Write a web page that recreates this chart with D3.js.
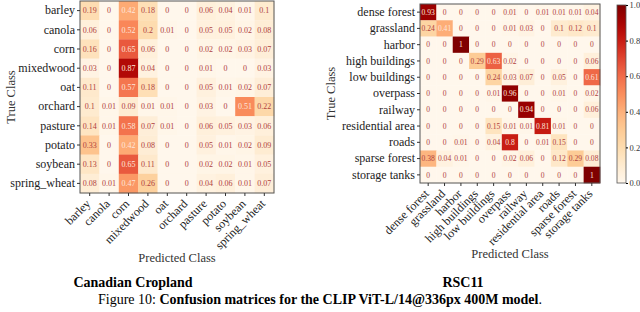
<!DOCTYPE html>
<html>
<head>
<meta charset="utf-8">
<script src="https://cdn.jsdelivr.net/npm/d3@7"></script>
<style>
  body { margin: 0; background: #fff; }
  svg text { font-family: "Liberation Serif", "DejaVu Serif", serif !important; }
</style>
</head>
<body>
<svg id="chart" width="640" height="312"></svg>
<script>
// Canadian Cropland classes
let cropClasses = ["barley", "canola", "corn", "mixedwood", "oat", "orchard", "pasture", "potato", "soybean", "spring_wheat"];
let cropValues = [
    [0.19, 0, 0.42, 0.18, 0, 0, 0.06, 0.04, 0.01, 0.1],
    [0.06, 0, 0.52, 0.2, 0.01, 0, 0.05, 0.05, 0.02, 0.08],
    [0.16, 0, 0.65, 0.06, 0, 0, 0.02, 0.02, 0.03, 0.07],
    [0.03, 0, 0.87, 0.04, 0, 0, 0.01, 0, 0, 0.03],
    [0.11, 0, 0.57, 0.18, 0, 0, 0.05, 0.01, 0.02, 0.07],
    [0.1, 0.01, 0.09, 0.01, 0.01, 0, 0.03, 0, 0.51, 0.22],
    [0.14, 0.01, 0.58, 0.07, 0.01, 0, 0.06, 0.05, 0.03, 0.06],
    [0.33, 0, 0.42, 0.08, 0, 0, 0.05, 0.01, 0.02, 0.09],
    [0.13, 0, 0.65, 0.11, 0, 0, 0.02, 0.02, 0.01, 0.05],
    [0.08, 0.01, 0.47, 0.26, 0, 0, 0.04, 0.06, 0.01, 0.07]
];

// RSC11 classes
let rscClasses = ["dense forest", "grassland", "harbor", "high buildings", "low buildings", "overpass", "railway", "residential area", "roads", "sparse forest", "storage tanks"];
let rscValues = [
    [0.93, 0, 0, 0, 0, 0.01, 0, 0.01, 0.01, 0.01, 0.04],
    [0.24, 0.41, 0, 0, 0, 0.01, 0.03, 0, 0.1, 0.12, 0.1],
    [0, 0, 1, 0, 0, 0, 0, 0, 0, 0, 0],
    [0, 0, 0, 0.29, 0.63, 0.02, 0, 0, 0, 0, 0.06],
    [0, 0, 0, 0, 0.24, 0.03, 0.07, 0, 0.05, 0, 0.61],
    [0, 0, 0, 0, 0.01, 0.96, 0, 0, 0.01, 0, 0.02],
    [0, 0, 0, 0, 0, 0, 0.94, 0, 0, 0, 0.06],
    [0, 0, 0, 0, 0.15, 0.01, 0.01, 0.81, 0.01, 0, 0],
    [0, 0, 0.01, 0, 0.04, 0.8, 0, 0.01, 0.15, 0, 0],
    [0.38, 0.04, 0.01, 0, 0, 0.02, 0.06, 0, 0.12, 0.29, 0.08],
    [0, 0, 0, 0, 0, 0, 0, 0, 0, 0, 1]
];

let colorTicks = [0, 0.2, 0.4, 0.6, 0.8, 1.0];

let serif = "'Liberation Serif', 'DejaVu Serif', serif";
let svg = d3.select("#chart").attr("font-family", serif);
let color = d3.scaleSequential(d3.interpolateOrRd).domain([0, 1]);

function drawMatrix(opts){
    let g = svg.append("g").attr("transform", "translate(" + opts.x + "," + opts.y + ")");
    let x = d3.scaleBand().domain(opts.classes).range([0, opts.w]);
    let y = d3.scaleBand().domain(opts.classes).range([0, opts.h]);

    let cells = [];
    opts.values.forEach((row, i) => {
        row.forEach((v, j) => cells.push({r: opts.classes[i], c: opts.classes[j], v: v}));
    });

    g.selectAll("rect.cell")
        .data(cells)
        .enter().append("rect")
        .attr("class", "cell")
        .attr("x", d => x(d.c))
        .attr("y", d => y(d.r))
        .attr("width", x.bandwidth() + 0.3)
        .attr("height", y.bandwidth() + 0.3)
        .style("fill", d => color(d.v));

    g.selectAll("text.val")
        .data(cells)
        .enter().append("text")
        .attr("class", "val")
        .attr("x", d => x(d.c) + x.bandwidth() / 2)
        .attr("y", d => y(d.r) + y.bandwidth() / 2)
        .attr("dy", "0.35em")
        .attr("text-anchor", "middle")
        .style("font-size", opts.valSize + "px")
        .style("fill", d => d.v >= 0.4 ? "#fde6dc" : "#b0413e")
        .text(d => d3.format("~g")(d.v));

    // frame
    g.append("rect")
        .attr("width", opts.w).attr("height", opts.h)
        .style("fill", "none").style("stroke", "#555").style("stroke-width", 1);

    let yAxis = g.append("g").call(d3.axisLeft(y).tickSize(3).tickPadding(2));
    yAxis.attr("font-family", serif);
    yAxis.select(".domain").remove();
    yAxis.selectAll("text").style("font-size", "12px").style("fill", "#222");
    yAxis.selectAll("line").style("stroke", "#333");

    let xAxis = g.append("g")
        .attr("transform", "translate(0," + opts.h + ")")
        .call(d3.axisBottom(x).tickSize(3).tickPadding(2));
    xAxis.attr("font-family", serif);
    xAxis.select(".domain").remove();
    xAxis.selectAll("line").style("stroke", "#333");
    xAxis.selectAll("text")
        .style("font-size", "12px").style("fill", "#222")
        .attr("text-anchor", "end")
        .attr("dy", "0.35em")
        .attr("transform", "translate(0,7) rotate(-45)")
        .attr("y", 0).attr("x", -2);

    g.append("text")
        .attr("transform", "translate(" + opts.yLabelX + "," + (opts.h / 2) + ") rotate(-90)")
        .attr("text-anchor", "middle")
        .style("font-size", "12.5px").style("fill", "#333")
        .text("True Class");

    g.append("text")
        .attr("x", opts.w / 2).attr("y", opts.xLabelY)
        .attr("text-anchor", "middle")
        .style("font-size", "12.5px").style("fill", "#333")
        .text("Predicted Class");

    svg.append("text")
        .attr("x", opts.titleX).attr("y", 287)
        .attr("text-anchor", "middle")
        .style("font-size", "14px").style("font-weight", "bold")
        .text(opts.title);
}

drawMatrix({x: 80, y: 1, w: 194, h: 192, classes: cropClasses, values: cropValues,
    valSize: 8, yLabelX: -65, xLabelY: 261, title: "Canadian Cropland", titleX: 133});

drawMatrix({x: 420, y: 4, w: 180, h: 179, classes: rscClasses, values: rscValues,
    valSize: 7.6, yLabelX: -85, xLabelY: 254, title: "RSC11", titleX: 463});

// colorbar
let cb = {x: 617, y: 5, w: 9, h: 178};
let cbScale = d3.scaleLinear().domain([0, 1]).range([cb.y + cb.h, cb.y]);
let defs = svg.append("defs");
let grad = defs.append("linearGradient").attr("id", "cbgrad")
    .attr("x1", 0).attr("y1", 1).attr("x2", 0).attr("y2", 0);
d3.range(0, 1.0001, 0.05).forEach(t => {
    grad.append("stop").attr("offset", t).attr("stop-color", color(t));
});
svg.append("rect")
    .attr("x", cb.x).attr("y", cb.y).attr("width", cb.w).attr("height", cb.h)
    .style("fill", "url(#cbgrad)").style("stroke", "#555").style("stroke-width", 0.8);
let cbAxis = svg.append("g")
    .attr("transform", "translate(" + (cb.x + cb.w) + ",0)")
    .call(d3.axisRight(cbScale).tickValues(colorTicks).tickFormat(d3.format(".1f")).tickSize(2).tickPadding(1.5));
cbAxis.attr("font-family", serif);
cbAxis.select(".domain").remove();
cbAxis.selectAll("text").style("font-size", "8.5px").style("fill", "#333");

// caption
let cap = svg.append("text").attr("x", 320).attr("y", 304)
    .attr("text-anchor", "middle").style("font-size", "14px").style("fill", "#000");
cap.append("tspan").text("Figure 10: ");
cap.append("tspan").style("font-weight", "bold").text("Confusion matrices for the CLIP ViT-L/14@336px 400M model");
cap.append("tspan").text(".");
</script>
</body>
</html>
